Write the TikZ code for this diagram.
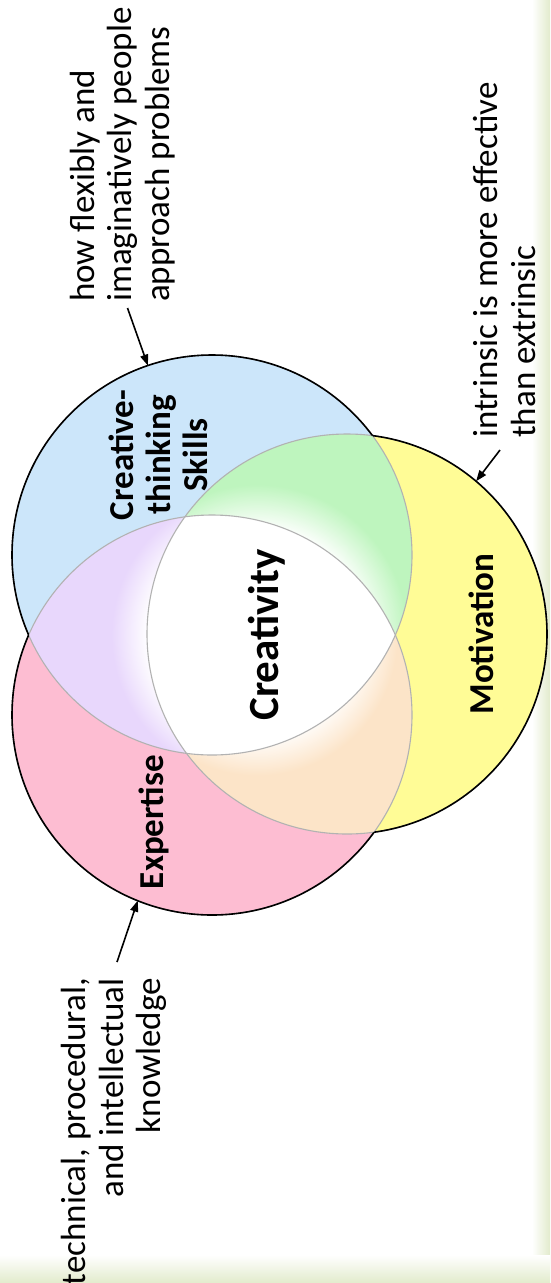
\documentclass[tikz,border=0pt]{standalone}
\usepackage{fontspec}
\setmainfont{Carlito}
\usetikzlibrary{arrows.meta,calc}
\definecolor{cblue}{RGB}{204,230,250}
\definecolor{cpink}{RGB}{253,189,210}
\definecolor{cyel}{RGB}{255,252,150}
\definecolor{clav}{RGB}{232,215,252}
\definecolor{cgreen}{RGB}{190,245,190}
\definecolor{cpeach}{RGB}{252,228,200}
\definecolor{band}{RGB}{226,235,204}
\pgfdeclareradialshading{lavsh}{\pgfpoint{0bp}{0bp}}{color(0bp)=(white); color(108bp)=(white); color(145bp)=(clav); color(260bp)=(clav)}
\pgfdeclareradialshading{greensh}{\pgfpoint{0bp}{0bp}}{color(0bp)=(white); color(105bp)=(white); color(150bp)=(cgreen); color(260bp)=(cgreen)}
\pgfdeclareradialshading{peachsh}{\pgfpoint{0bp}{0bp}}{color(0bp)=(white); color(100bp)=(white); color(140bp)=(cpeach); color(260bp)=(cpeach)}
\tikzset{
  note/.style={rotate=90, inner sep=0pt, font=\fontsize{35}{37.5}\selectfont},
  lab/.style={rotate=90, inner sep=0pt, font=\bfseries\fontsize{35}{37}\selectfont},
  arr/.style={-{Triangle[length=11pt,width=8pt]}, line width=1.6pt},
  innerline/.style={draw=black!30, line width=1.1pt},
  outerline/.style={draw=black, line width=1.6pt},
  shadebox/.style={inner sep=0pt, outer sep=0pt, anchor=center}
}
\begin{document}
\begin{tikzpicture}[x=1pt,y=1pt]
\useasboundingbox (0,0) rectangle (550,-1283);
\fill[white] (0,0) rectangle (550,-1283);
\shade[left color=white, right color=band] (532,0) rectangle (550,-1283);
\shade[top color=white, bottom color=band] (0,-1255) rectangle (550,-1283);
% centres
\coordinate (cB) at (212,-555);
\coordinate (cP) at (212,-715);
\coordinate (cY) at (347,-634);
\coordinate (cM) at (257,-635);
% base fills
\fill[cblue] (cB) circle (200);
\fill[cpink] (cP) circle (200);
\fill[cyel] (cY) circle (200);
% lenses
\begin{scope}
  \clip (cB) circle (200); \clip (cP) circle (200);
  \node[shadebox] (sl) at (cM) {\pgfuseshading{lavsh}};
\end{scope}
\begin{scope}
  \clip (cB) circle (200); \clip (cY) circle (200);
  \node[shadebox] (sg) at (cM) {\pgfuseshading{greensh}};
\end{scope}
\begin{scope}
  \clip (cP) circle (200); \clip (cY) circle (200);
  \node[shadebox] (sp) at (cM) {\pgfuseshading{peachsh}};
\end{scope}
\begin{scope}
  \clip (cB) circle (200); \clip (cP) circle (200); \clip (cY) circle (200);
  \fill[white] (cM) circle (250);
\end{scope}
% faint inner outlines
\draw[innerline] (cB) circle (200);
\draw[innerline] (cP) circle (200);
\draw[innerline] (cY) circle (200);
% outer black outline
\begin{scope}[even odd rule]
  \clip (-50,50) rectangle (600,-1350) (cP) circle (200);
  \clip (-50,50) rectangle (600,-1350) (cY) circle (200);
  \draw[outerline] (cB) circle (200);
\end{scope}
\begin{scope}[even odd rule]
  \clip (-50,50) rectangle (600,-1350) (cB) circle (200);
  \clip (-50,50) rectangle (600,-1350) (cY) circle (200);
  \draw[outerline] (cP) circle (200);
\end{scope}
\begin{scope}[even odd rule]
  \clip (-50,50) rectangle (600,-1350) (cB) circle (200);
  \clip (-50,50) rectangle (600,-1350) (cP) circle (200);
  \draw[outerline] (cY) circle (200);
\end{scope}
% labels
\node[lab, anchor=base] (lc) at (278,-635) {\fontsize{43}{48}\selectfont Creativity};
\node[lab, anchor=base] (lm) at (493,-634) {Motivation};
\node[lab, anchor=base] (le) at (163,-822) {Expertise};
\node[lab, align=center] (ls) at (158,-455) {Creative-\\thinking\\Skills};
% notes
\node[note, anchor=west, align=left] (n1) at (122.5,-302) {how flexibly and\\imaginatively people\\approach problems};
\node[note, anchor=west, align=left] (n2) at (504.5,-438) {intrinsic is more effective\\than extrinsic};
\node[note, anchor=east, align=right] (n3) at (114,-978) {technical, procedural,\\and intellectual\\knowledge};
% arrows
\coordinate (hB) at ($(cB)+(108.7:200)$);
\coordinate (hY) at ($(cY)+(49.8:200)$);
\coordinate (hP) at ($(cP)+(248.2:200)$);
\coordinate (t1) at ($(n1.west)+(5,-6)$);
\coordinate (t2) at ($(n2.west)+(-4.5,-12)$);
\coordinate (t3) at ($(n3.east)+(3,16)$);
\draw[arr] (t1) -- (hB);
\draw[arr] (t2) -- (hY);
\draw[arr] (t3) -- (hP);
\end{tikzpicture}
\end{document}
